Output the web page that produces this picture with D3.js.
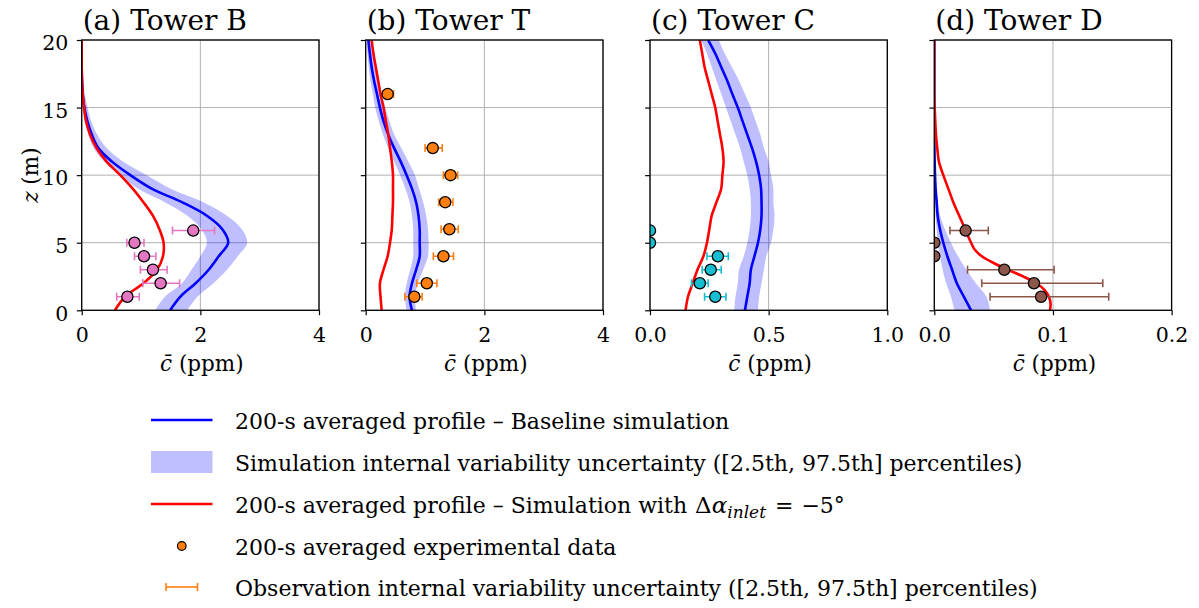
<!DOCTYPE html>
<html><head><meta charset="utf-8">
<script src="https://cdn.jsdelivr.net/npm/d3@7"></script>
<style>
body{margin:0;background:#fff;}
svg text{font-family:"DejaVu Serif", serif; fill:#000;}
</style></head><body>
<svg id="chart" width="1199" height="608"></svg>
<script>
// ---------------- DATA ----------------
const zProfile = [0,1,2,3,4,5,6,7,8,9,10,11,12,13,14,15,16,17,18,19,20];
const zFine = [0,0.5,1,1.5,2,2.5,3,3.5,4,4.5,5,6,7,8,9,10,11,12,13,14,15,16,17,18,19,20];
const yTicks = [0,5,10,15,20];
const yTickLabels = ["0","5","10","15","20"];

// Tower B
const bBlue = [1.49,1.66,1.92,2.14,2.31,2.47,2.37,2.11,1.69,1.18,0.82,0.51,0.28,0.17,0.095,0.045,0.017,0.005,0,0,0];
const bLo   = [1.24,1.40,1.69,1.85,2.00,2.11,2.02,1.78,1.40,0.95,0.65,0.38,0.20,0.11,0.05,0.01,0,0,0,0,0];
const bHi   = [1.78,1.95,2.22,2.45,2.63,2.79,2.70,2.45,2.05,1.50,1.10,0.70,0.42,0.26,0.16,0.10,0.05,0.02,0.005,0,0];
const bRed  = [0.56,0.73,1.04,1.27,1.37,1.38,1.31,1.20,1.04,0.86,0.65,0.42,0.25,0.14,0.073,0.04,0.017,0.006,0,0,0];
const bObsZ  = [1,2,3,4,5,5.9];
const bObsC  = [0.77,1.33,1.20,1.05,0.89,1.88];
const bObsLo = [0.59,1.03,0.99,0.89,0.76,1.53];
const bObsHi = [0.97,1.65,1.44,1.25,1.05,2.24];
const bTicks = [0,2,4];
const bTickLabels = ["0","2","4"];

// Tower T
const tBlue = [0.78,0.74,0.78,0.85,0.91,0.91,0.91,0.89,0.85,0.78,0.69,0.59,0.48,0.38,0.30,0.24,0.19,0.14,0.10,0.07,0.045];
const tLo   = [0.69,0.66,0.69,0.75,0.80,0.80,0.80,0.78,0.74,0.67,0.58,0.48,0.38,0.29,0.22,0.16,0.12,0.08,0.05,0.03,0.02];
const tHi   = [0.85,0.83,0.88,0.97,1.05,1.06,1.05,1.02,0.97,0.90,0.83,0.72,0.60,0.48,0.40,0.33,0.27,0.21,0.16,0.11,0.08];
const tRed  = [0.27,0.25,0.24,0.30,0.37,0.41,0.44,0.45,0.46,0.46,0.46,0.44,0.41,0.38,0.34,0.30,0.25,0.21,0.17,0.13,0.10];
const tObsZ  = [1,2,4,6,8,10,12,16];
const tObsC  = [0.82,1.03,1.31,1.41,1.34,1.43,1.13,0.37];
const tObsLo = [0.66,0.86,1.14,1.27,1.23,1.31,1.00,0.29];
const tObsHi = [0.95,1.20,1.48,1.56,1.47,1.55,1.29,0.47];
const tTicks = [0,2,4];
const tTickLabels = ["0","2","4"];

// Tower C
const cBlue = [0.40,0.41,0.42,0.425,0.44,0.455,0.465,0.47,0.47,0.468,0.46,0.447,0.43,0.41,0.39,0.37,0.347,0.325,0.30,0.275,0.245];
const cLo   = [0.355,0.36,0.37,0.375,0.395,0.41,0.42,0.425,0.425,0.42,0.41,0.395,0.38,0.36,0.34,0.32,0.30,0.28,0.26,0.24,0.215];
const cHi   = [0.455,0.46,0.47,0.48,0.49,0.51,0.52,0.525,0.52,0.52,0.51,0.50,0.48,0.465,0.445,0.425,0.40,0.375,0.345,0.315,0.29];
const cRed  = [0.15,0.16,0.18,0.20,0.225,0.24,0.25,0.26,0.28,0.30,0.305,0.31,0.305,0.295,0.285,0.275,0.26,0.245,0.23,0.22,0.21];
const cObsZ  = [1,2,3,4,5,5.9];
const cObsC  = [0.275,0.21,0.256,0.286,0,0];
const cObsLo = [0.23,0.175,0.22,0.24,0,0];
const cObsHi = [0.32,0.245,0.30,0.33,0,0];
const cTicks = [0,0.5,1];
const cTickLabels = ["0.0","0.5","1.0"];

// Tower D
const dBlue = [0.031,0.025,0.019,0.015,0.011,0.0076,0.0048,0.0028,0.002,0.0011,0.0006,0.0003,0.0001,0,0,0,0,0,0,0,0];
const dLo   = [0.017,0.014,0.010,0.007,0.005,0.003,0.002,0.001,0.0005,0.0002,0,0,0,0,0,0,0,0,0,0,0];
const dHi   = [0.047,0.044,0.035,0.027,0.020,0.014,0.009,0.005,0.003,0.002,0.001,0.0005,0,0,0,0,0,0,0,0,0];
const dRed  = [0.0975,0.098,0.0966,0.093,0.086,0.075,0.062,0.050,0.040,0.034,0.031,0.026,0.021,0.016,0.0118,0.0076,0.0039,0.0025,0.0014,0.0008,0.0003,0,0,0,0,0];
const dObsZ  = [1,2,3,4,5,5.9];
const dObsC  = [0.090,0.084,0.059,0,0,0.0264];
const dObsLo = [0.047,0.040,0.028,0,0,0.0132];
const dObsHi = [0.147,0.142,0.101,0,0,0.0455];
const dTicks = [0,0.1,0.2];
const dTickLabels = ["0.0","0.1","0.2"];

const legendLabels = [
  "200-s averaged profile \u2013 Baseline simulation",
  "Simulation internal variability uncertainty ([2.5th, 97.5th] percentiles)",
  "200-s averaged profile \u2013 Simulation with ",
  "200-s averaged experimental data",
  "Observation internal variability uncertainty ([2.5th, 97.5th] percentiles)"
];

// ---------------- LAYOUT ----------------
const panels = [
  {id:"B", title:"(a) Tower B", dom:[0,4], ticks:bTicks, labels:bTickLabels, z:zProfile, blue:bBlue, lo:bLo, hi:bHi, redZ:zProfile, red:bRed, oz:bObsZ, oc:bObsC, olo:bObsLo, ohi:bObsHi, color:"#e377c2"},
  {id:"T", title:"(b) Tower T", dom:[0,4], ticks:tTicks, labels:tTickLabels, z:zProfile, blue:tBlue, lo:tLo, hi:tHi, redZ:zProfile, red:tRed, oz:tObsZ, oc:tObsC, olo:tObsLo, ohi:tObsHi, color:"#ff7f0e"},
  {id:"C", title:"(c) Tower C", dom:[0,1], ticks:cTicks, labels:cTickLabels, z:zProfile, blue:cBlue, lo:cLo, hi:cHi, redZ:zProfile, red:cRed, oz:cObsZ, oc:cObsC, olo:cObsLo, ohi:cObsHi, color:"#17becf"},
  {id:"D", title:"(d) Tower D", dom:[0,0.2], ticks:dTicks, labels:dTickLabels, z:zProfile, blue:dBlue, lo:dLo, hi:dHi, redZ:zFine, red:dRed, oz:dObsZ, oc:dObsC, olo:dObsLo, ohi:dObsHi, color:"#8c564b"}
];

const lefts = [81.7, 365.7, 650, 934.3];
const pw = 237.3, topY = 40, ph = 270.3;
const tickFont = 20.5, titleFont = 28, labelFont = 21.5, legendFont = 22;

const svg = d3.select("#chart");
const y = d3.scaleLinear().domain([0,20]).range([topY+ph, topY]);

panels.forEach((p, i) => {
  const L = lefts[i];
  const x = d3.scaleLinear().domain(p.dom).range([L, L+pw]);
  const g = svg.append("g");
  const clipId = "clip"+p.id;
  svg.append("clipPath").attr("id", clipId).append("rect")
     .attr("x", L).attr("y", topY).attr("width", pw).attr("height", ph);

  // grid
  g.selectAll(".gx").data(p.ticks).enter().append("line")
    .attr("x1", d=>x(d)).attr("x2", d=>x(d)).attr("y1", topY).attr("y2", topY+ph)
    .attr("stroke", "#b0b0b0").attr("stroke-width", 1);
  g.selectAll(".gy").data(yTicks).enter().append("line")
    .attr("x1", L).attr("x2", L+pw).attr("y1", d=>y(d)).attr("y2", d=>y(d))
    .attr("stroke", "#b0b0b0").attr("stroke-width", 1);

  const plot = g.append("g").attr("clip-path", `url(#${clipId})`);
  // band
  const area = d3.area().curve(d3.curveCatmullRom)
    .y((d,k)=>y(p.z[k])).x0((d,k)=>x(p.lo[k])).x1((d,k)=>x(p.hi[k]));
  plot.append("path").datum(p.z).attr("d", area)
    .attr("fill", "#0000ff").attr("fill-opacity", 0.25).attr("stroke", "none");
  // blue line
  const lineB = d3.line().curve(d3.curveCatmullRom)
    .x((d,k)=>x(p.blue[k])).y((d,k)=>y(p.z[k]));
  plot.append("path").datum(p.z).attr("d", lineB)
    .attr("fill","none").attr("stroke","#0000ff").attr("stroke-width",2.6);
  // red line
  const lineR = d3.line().curve(d3.curveCatmullRom)
    .x((d,k)=>x(p.red[k])).y((d,k)=>y(p.redZ[k]));
  plot.append("path").datum(p.redZ).attr("d", lineR)
    .attr("fill","none").attr("stroke","#ff0000").attr("stroke-width",2.6);

  // observations
  const obs = p.oz.map((zz,k)=>({z:zz, c:p.oc[k], lo:p.olo[k], hi:p.ohi[k]}));
  const eb = plot.selectAll(".eb").data(obs).enter().append("g");
  const cap = 4;
  eb.append("line").attr("x1", d=>x(d.lo)).attr("x2", d=>x(d.hi))
    .attr("y1", d=>y(d.z)).attr("y2", d=>y(d.z))
    .attr("stroke", p.color).attr("stroke-width", 1.6);
  eb.append("line").attr("x1", d=>x(d.lo)).attr("x2", d=>x(d.lo))
    .attr("y1", d=>y(d.z)-cap).attr("y2", d=>y(d.z)+cap)
    .attr("stroke", p.color).attr("stroke-width", 1.6);
  eb.append("line").attr("x1", d=>x(d.hi)).attr("x2", d=>x(d.hi))
    .attr("y1", d=>y(d.z)-cap).attr("y2", d=>y(d.z)+cap)
    .attr("stroke", p.color).attr("stroke-width", 1.6);
  plot.selectAll(".pt").data(obs).enter().append("circle")
    .attr("cx", d=>x(d.c)).attr("cy", d=>y(d.z)).attr("r", 5.6)
    .attr("fill", p.color).attr("stroke", "#000").attr("stroke-width", 1.3);

  // spines
  g.append("rect").attr("x", L).attr("y", topY).attr("width", pw).attr("height", ph)
    .attr("fill","none").attr("stroke","#000").attr("stroke-width",1.3);

  // x axis ticks
  const xAxis = d3.axisBottom(x).tickValues(p.ticks).tickFormat((d,k)=>p.labels[k])
    .tickSizeInner(4.9).tickSizeOuter(0).tickPadding(12);
  const ax = svg.append("g").attr("transform", `translate(0,${topY+ph})`).call(xAxis);
  ax.select(".domain").remove();
  ax.selectAll(".tick line").attr("stroke","#000").attr("stroke-width",1.2);
  ax.selectAll(".tick text").style("font-family","DejaVu Serif").style("font-size", tickFont+"px");

  // y axis ticks
  const yAxis = d3.axisLeft(y).tickValues(yTicks).tickFormat((d,k)=> i===0 ? yTickLabels[k] : "")
    .tickSizeInner(4.9).tickSizeOuter(0).tickPadding(8.5);
  const ay = svg.append("g").attr("transform", `translate(${L},0)`).call(yAxis);
  ay.select(".domain").remove();
  ay.selectAll(".tick line").attr("stroke","#000").attr("stroke-width",1.2);
  ay.selectAll(".tick text").style("font-family","DejaVu Serif").style("font-size", tickFont+"px")
    .attr("dy","0.48em");

  // title
  svg.append("text").attr("x", L+1).attr("y", 29.5).style("font-size", titleFont+"px").text(p.title);

  // x label
  const xl = svg.append("text").attr("x", L+pw/2+1.5).attr("y", 371).attr("text-anchor","middle")
    .style("font-size", labelFont+"px");
  xl.append("tspan").style("font-style","italic").text("c\u0304");
  xl.append("tspan").text(" (ppm)");
});

// y label
const yl = svg.append("text").attr("transform", `translate(38,${topY+ph/2}) rotate(-90)`)
  .attr("text-anchor","middle").style("font-size", labelFont+"px");
yl.append("tspan").style("font-style","italic").text("z");
yl.append("tspan").text(" (m)");

// ---------------- LEGEND ----------------
const legY = [420, 462, 504, 546, 587];
const lx0 = 151, lx1 = 212.5, tx = 235;
const leg = svg.append("g");
leg.append("line").attr("x1",lx0).attr("x2",lx1).attr("y1",legY[0]).attr("y2",legY[0]).attr("stroke","#0000ff").attr("stroke-width",2.6);
leg.append("rect").attr("x",lx0).attr("y",legY[1]-11).attr("width",lx1-lx0).attr("height",22).attr("fill","#0000ff").attr("fill-opacity",0.25);
leg.append("line").attr("x1",lx0).attr("x2",lx1).attr("y1",legY[2]).attr("y2",legY[2]).attr("stroke","#ff0000").attr("stroke-width",2.6);
leg.append("circle").attr("cx",(lx0+lx1)/2).attr("cy",legY[3]).attr("r",4.3).attr("fill","#ff7f0e").attr("stroke","#000").attr("stroke-width",1.2);
const ex0 = 166, ex1 = 197.5;
leg.append("line").attr("x1",ex0).attr("x2",ex1).attr("y1",legY[4]).attr("y2",legY[4]).attr("stroke","#ff7f0e").attr("stroke-width",1.6);
leg.append("line").attr("x1",ex0).attr("x2",ex0).attr("y1",legY[4]-4).attr("y2",legY[4]+4).attr("stroke","#ff7f0e").attr("stroke-width",1.6);
leg.append("line").attr("x1",ex1).attr("x2",ex1).attr("y1",legY[4]-4).attr("y2",legY[4]+4).attr("stroke","#ff7f0e").attr("stroke-width",1.6);

legendLabels.forEach((t,k)=>{
  const tt = leg.append("text").attr("x",tx).attr("y",legY[k]+9).style("font-size",legendFont+"px");
  tt.append("tspan").text(t);
  if (k===2){
    tt.append("tspan").attr("dx",1).style("font-size","23px").text("\u0394");
    tt.append("tspan").style("font-style","italic").style("font-size","23px").text("\u03b1");
    tt.append("tspan").style("font-style","italic").style("font-size","17px").attr("dy",5).text("inlet");
    tt.append("tspan").attr("dy",-5).attr("dx",9).text("=");
    tt.append("tspan").attr("dx",8).text("\u22125\u00b0");
  }
});
</script>
</body></html>
